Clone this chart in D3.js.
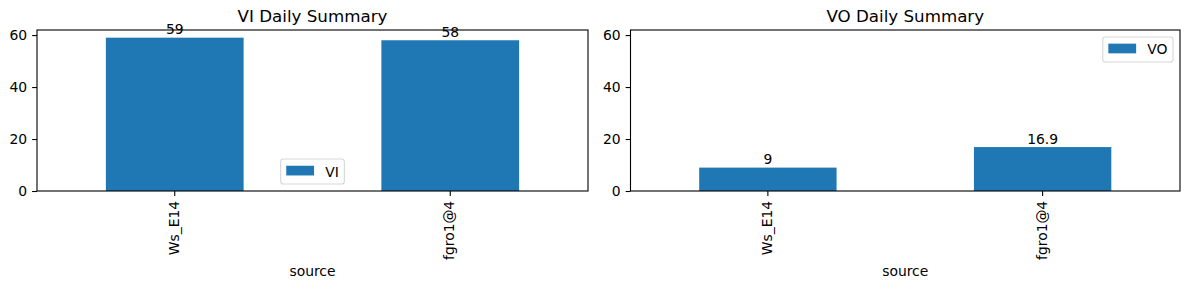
<!DOCTYPE html>
<html>
<head>
<meta charset="utf-8">
<script src="https://cdn.jsdelivr.net/npm/d3@7"></script>
<style>
  body { margin: 0; background: #fff; }
  text { font-family: "DejaVu Sans", sans-serif; fill: #000; }
</style>
</head>
<body>
<div id="chart"></div>
<script>
// data
var categories = ["Ws_E14", "fgro1@4"];
var viValues = [59, 58];
var voValues = [9, 16.9];
var yTicks = [0, 20, 40, 60];
var panelTitles = ["VI Daily Summary", "VO Daily Summary"];
var seriesNames = ["VI", "VO"];
var xLabel = "source";

var W = 1189, H = 290;
var fs = 13.9; // 10pt at 100 dpi
var barColor = "#1f77b4";

var svg = d3.select("#chart").append("svg")
  .attr("width", W).attr("height", H);

// shared y scale (sharey), top = max * 1.05 like pandas
var yMax = d3.max(viValues.concat(voValues)) * 1.05;
var y = d3.scaleLinear().domain([0, yMax]).range([191, 30]);

var panels = [
  { left: 37, right: 588, values: viValues, title: panelTitles[0], name: seriesNames[0], legend: "lower center" },
  { left: 630.5, right: 1180, values: voValues, title: panelTitles[1], name: seriesNames[1], legend: "upper right" }
];

panels.forEach(function (p) {
  var g = svg.append("g");
  var x = d3.scaleBand().domain(categories).range([p.left, p.right])
    .paddingInner(0.5).paddingOuter(0.25);

  // bars
  g.selectAll("rect.bar").data(p.values).enter().append("rect")
    .attr("class", "bar")
    .attr("x", function (d, i) { return x(categories[i]); })
    .attr("y", function (d) { return y(d); })
    .attr("width", x.bandwidth())
    .attr("height", function (d) { return y(0) - y(d); })
    .attr("fill", barColor);

  // frame
  g.append("rect")
    .attr("x", p.left).attr("y", y.range()[1])
    .attr("width", p.right - p.left).attr("height", y.range()[0] - y.range()[1])
    .attr("fill", "none").attr("stroke", "#000").attr("stroke-width", 1.1);

  // y axis
  var yAxis = g.append("g").attr("transform", "translate(" + p.left + ",0)")
    .call(d3.axisLeft(y).tickValues(yTicks).tickFormat(d3.format("d"))
      .tickSize(4.9).tickPadding(4.9));
  yAxis.select(".domain").remove();
  yAxis.selectAll("line").attr("stroke-width", 1.1);
  yAxis.selectAll("text").attr("font-size", fs).attr("font-family", "DejaVu Sans");

  // x axis with rotated labels
  var xAxis = g.append("g").attr("transform", "translate(0," + y(0) + ")")
    .call(d3.axisBottom(x).tickSize(4.9));
  xAxis.select(".domain").remove();
  xAxis.selectAll("line").attr("stroke-width", 1.1);
  xAxis.selectAll("text")
    .attr("font-size", fs).attr("font-family", "DejaVu Sans")
    .attr("transform", "rotate(-90)")
    .attr("x", -9.8).attr("y", 0).attr("dy", "0.28em")
    .style("text-anchor", "end");

  // bar value labels
  g.selectAll("text.val").data(p.values).enter().append("text")
    .attr("class", "val")
    .attr("x", function (d, i) { return x(categories[i]) + x.bandwidth() / 2; })
    .attr("y", function (d) { return y(d) - 3.3; })
    .attr("text-anchor", "middle")
    .attr("font-size", fs)
    .text(function (d) { return d; });

  // title and x label
  var cx = (p.left + p.right) / 2;
  g.append("text").attr("x", cx).attr("y", 21.7)
    .attr("text-anchor", "middle").attr("font-size", 16.7).text(p.title);
  g.append("text").attr("x", cx).attr("y", 276)
    .attr("text-anchor", "middle").attr("font-size", fs).text(xLabel);

  // legend
  var lg = g.append("g");
  var box = lg.append("rect").attr("rx", 2.8).attr("ry", 2.8)
    .attr("fill", "#fff").attr("fill-opacity", 0.8)
    .attr("stroke", "#ccc").attr("stroke-opacity", 0.8).attr("stroke-width", 1.1);
  var patch = lg.append("rect").attr("fill", barColor);
  var lt = lg.append("text").attr("font-size", fs).text(p.name);
  var tw = lt.node().getComputedTextLength();
  var bw = 5.6 + 27.8 + 11.1 + tw + 5.6, bh = 25;
  var bx, by;
  if (p.legend === "lower center") {
    bx = cx - bw / 2; by = y(0) - 6.95 - bh;
  } else {
    bx = p.right - 6.95 - bw; by = y.range()[1] + 6.95;
  }
  box.attr("x", bx).attr("y", by).attr("width", bw).attr("height", bh);
  patch.attr("x", bx + 5.6).attr("y", by + bh / 2 - 5.8).attr("width", 27.8).attr("height", 9.7);
  lt.attr("x", bx + 5.6 + 27.8 + 11.1).attr("y", by + bh / 2 + 5);
});
</script>
</body>
</html>
